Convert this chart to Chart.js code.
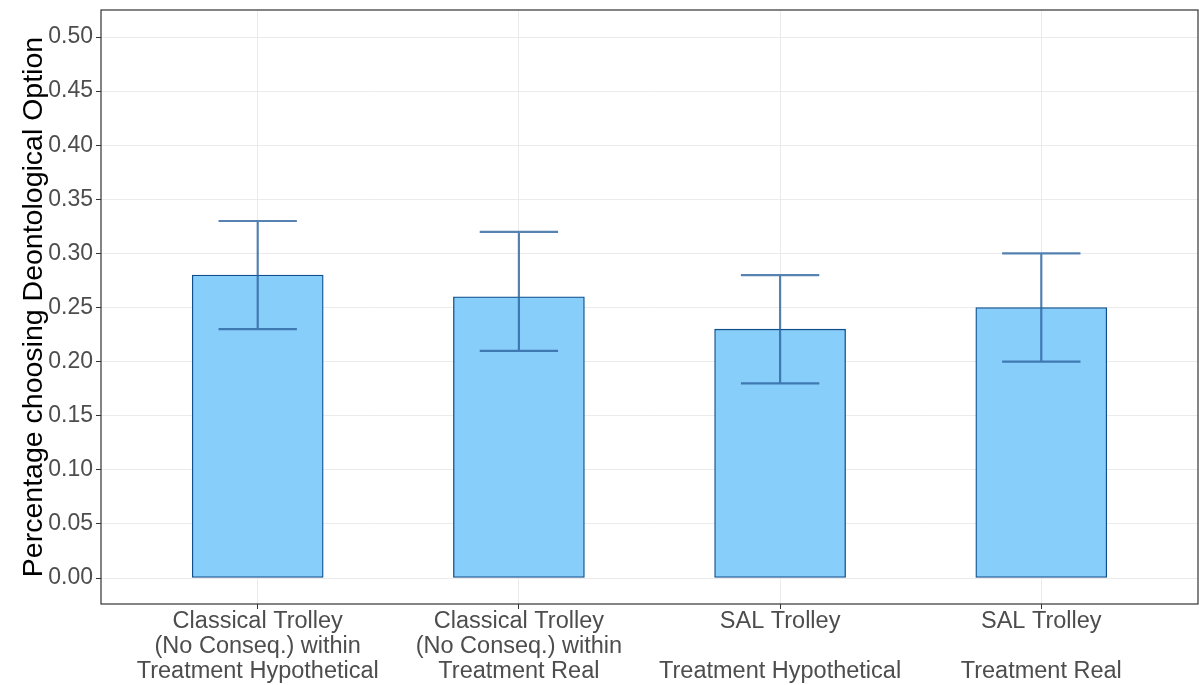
<!DOCTYPE html>
<html lang="en">
<head>
<meta charset="UTF-8">
<title>Percentage choosing Deontological Option</title>
<script src="https://cdn.jsdelivr.net/npm/chart.js"></script>
<style>
  html, body { margin: 0; padding: 0; background: #fff; }
  #wrap { width: 1199px; height: 685px; }
</style>
</head>
<body>
<div id="wrap"><canvas id="chart"></canvas></div>
<script>
// Data
const categories = [
  ['Classical Trolley', '(No Conseq.) within', 'Treatment Hypothetical'],
  ['Classical Trolley', '(No Conseq.) within', 'Treatment Real'],
  ['SAL Trolley', '', 'Treatment Hypothetical'],
  ['SAL Trolley', '', 'Treatment Real']
];
const positions = [1, 2, 3, 4];
const means = [0.28, 0.26, 0.23, 0.25];
const upper = [0.33, 0.32, 0.28, 0.30];
const lower = [0.23, 0.21, 0.18, 0.20];
const yTicks = [0, 0.05, 0.10, 0.15, 0.20, 0.25, 0.30, 0.35, 0.40, 0.45, 0.50];

const FONT = "'Liberation Sans', Arial, sans-serif";

// error bars drawn through the chart's own scales
const errorBars = {
  id: 'errorBars',
  afterDatasetsDraw(chart) {
    const { ctx, scales: { x, y } } = chart;
    ctx.save();
    ctx.strokeStyle = 'rgba(45, 100, 160, 0.8)';
    ctx.lineWidth = 2.2;
    positions.forEach((p, i) => {
      const cx = x.getPixelForValue(p);
      const x0 = x.getPixelForValue(p - 0.15);
      const x1 = x.getPixelForValue(p + 0.15);
      const yt = y.getPixelForValue(upper[i]);
      const yb = y.getPixelForValue(lower[i]);
      ctx.beginPath();
      ctx.moveTo(cx, yt); ctx.lineTo(cx, yb);
      ctx.moveTo(x0, yt); ctx.lineTo(x1, yt);
      ctx.moveTo(x0, yb); ctx.lineTo(x1, yb);
      ctx.stroke();
    });
    ctx.restore();
  }
};

// panel border
const panelBorder = {
  id: 'panelBorder',
  afterDraw(chart) {
    const { ctx, chartArea: a } = chart;
    ctx.save();
    ctx.strokeStyle = '#333333';
    ctx.lineWidth = 1.2;
    ctx.strokeRect(a.left, a.top, a.right - a.left, a.bottom - a.top);
    ctx.restore();
  }
};

new Chart(document.getElementById('chart'), {
  type: 'bar',
  data: {
    datasets: [{
      data: positions.map((p, i) => ({ x: p, y: means[i] })),
      backgroundColor: '#87CEFA',
      borderColor: '#104E8B',
      borderWidth: 1.3,
      borderSkipped: false,
      barThickness: 131
    }]
  },
  options: {
    responsive: true,
    maintainAspectRatio: false,
    animation: false,
    layout: { padding: { top: 10, right: 1, left: 0, bottom: 0 } },
    plugins: {
      legend: { display: false },
      tooltip: { enabled: false }
    },
    scales: {
      x: {
        type: 'linear',
        min: 0.4,
        max: 4.6,
        offset: false,
        afterBuildTicks(scale) {
          scale.ticks = positions.map(v => ({ value: v }));
        },
        afterFit(scale) { scale.height = 81; },
        border: { display: false },
        grid: { offset: false, color: '#ebebeb', lineWidth: 1, tickLength: 5, tickColor: '#333333' },
        ticks: {
          autoSkip: false,
          maxRotation: 0,
          padding: 0,
          color: '#4d4d4d',
          font: { family: FONT, size: 23.5, lineHeight: 1.07 },
          callback(v) {
            const i = positions.indexOf(v);
            return i >= 0 ? categories[i] : '';
          }
        }
      },
      y: {
        min: -0.024,
        max: 0.525,
        afterBuildTicks(scale) {
          scale.ticks = yTicks.map(v => ({ value: v }));
        },
        afterFit(scale) {
          scale.width = 101;
          // tick labels sit well inside the panel, no extra room needed
          scale.paddingTop = 0;
          scale.paddingBottom = 0;
        },
        border: { display: false },
        grid: { color: '#ebebeb', lineWidth: 1, tickLength: 5, tickColor: '#333333' },
        title: {
          display: true,
          text: 'Percentage choosing Deontological Option',
          color: '#000000',
          font: { family: FONT, size: 28.5 },
          padding: { top: 17, bottom: 0 }
        },
        ticks: {
          padding: 3,
          color: '#4d4d4d',
          font: { family: FONT, size: 23 },
          callback: v => v.toFixed(2)
        }
      }
    }
  },
  plugins: [errorBars, panelBorder]
});
</script>
</body>
</html>
